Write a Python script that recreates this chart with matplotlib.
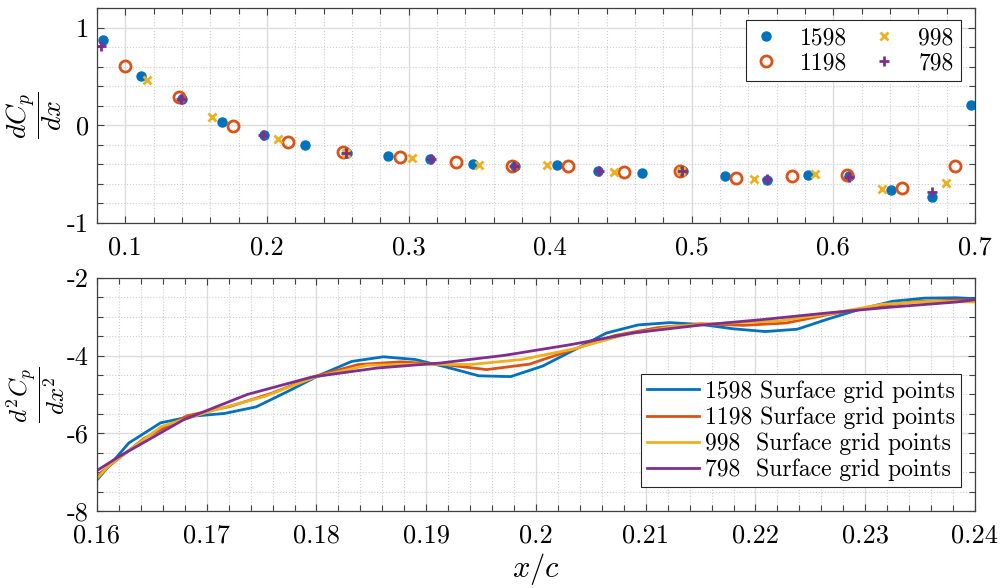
"""Surface pressure-gradient derivatives for four surface grid resolutions."""
import numpy as np
import matplotlib.pyplot as plt
from matplotlib.ticker import MultipleLocator

plt.rcParams['font.family'] = 'serif'
plt.rcParams['font.serif'] = ['cmr10', 'DejaVu Serif']
plt.rcParams['mathtext.fontset'] = 'cm'
plt.rcParams['axes.formatter.use_mathtext'] = True

# first derivative, every 10th surface point
x1598 = [0.0840, 0.1113, 0.1400, 0.1685, 0.1979, 0.2270, 0.2569, 0.2858, 0.3155, 0.3458, 0.3752,
         0.4050, 0.4340, 0.4646, 0.4940, 0.5237, 0.5528, 0.5822, 0.6112, 0.6406, 0.6693, 0.6970]
y1598 = [0.868, 0.505, 0.273, 0.037, -0.100, -0.205, -0.284, -0.316, -0.343, -0.395, -0.420,
         -0.405, -0.464, -0.485, -0.464, -0.516, -0.558, -0.506, -0.516, -0.661, -0.734, 0.208]
x1198 = [0.1000, 0.1376, 0.1760, 0.2152, 0.2540, 0.2940, 0.3336, 0.3729, 0.4129, 0.4524, 0.4917,
         0.5312, 0.5705, 0.6097, 0.6486, 0.6862]
y1198 = [0.609, 0.290, -0.004, -0.166, -0.274, -0.326, -0.378, -0.420, -0.412, -0.482, -0.464,
         -0.540, -0.523, -0.509, -0.644, -0.412]
x998 = [0.1153, 0.1612, 0.2078, 0.2555, 0.3023, 0.3500, 0.3976, 0.4450, 0.4925, 0.5440, 0.5870,
        0.6340, 0.6794]
y998 = [0.463, 0.083, -0.142, -0.280, -0.332, -0.402, -0.405, -0.475, -0.465, -0.550, -0.498,
        -0.648, -0.592]
x798 = [0.0830, 0.1393, 0.1972, 0.2560, 0.3157, 0.3747, 0.4345, 0.4933, 0.5528, 0.6112, 0.6693]
y798 = [0.816, 0.273, -0.100, -0.284, -0.343, -0.420, -0.464, -0.464, -0.550, -0.526, -0.680]

# second derivative, all surface points in 0.16 < x/c < 0.24
xx1598 = [0.1600, 0.1629, 0.1658, 0.1687, 0.1716, 0.1745, 0.1774, 0.1803, 0.1832, 0.1861, 0.1890,
          0.1919, 0.1948, 0.1977, 0.2006, 0.2035, 0.2064, 0.2093, 0.2122, 0.2151, 0.2180, 0.2209,
          0.2238, 0.2267, 0.2296, 0.2325, 0.2354, 0.2383, 0.2412]
d1598 = [-7.20, -6.25, -5.73, -5.56, -5.49, -5.32, -4.92, -4.50, -4.15, -4.03, -4.10,
         -4.30, -4.52, -4.54, -4.27, -3.85, -3.42, -3.21, -3.15, -3.20, -3.31, -3.38,
         -3.32, -3.05, -2.80, -2.60, -2.52, -2.51, -2.55]
xx1198 = [0.1600, 0.1604, 0.1643, 0.1682, 0.1721, 0.1760, 0.1799, 0.1838, 0.1877, 0.1916, 0.1955,
          0.1994, 0.2033, 0.2072, 0.2111, 0.2150, 0.2189, 0.2228, 0.2267, 0.2306, 0.2345, 0.2384,
          0.2400]
d1198 = [-7.14, -7.00, -6.13, -5.55, -5.31, -4.96, -4.53, -4.23, -4.16, -4.23, -4.36,
         -4.22, -3.85, -3.48, -3.28, -3.18, -3.22, -3.16, -2.94, -2.75, -2.61, -2.57,
         -2.57]
xx998 = [0.1600, 0.1612, 0.1659, 0.1706, 0.1753, 0.1799, 0.1846, 0.1893, 0.1940, 0.1987, 0.2034,
         0.2081, 0.2128, 0.2175, 0.2221, 0.2268, 0.2315, 0.2362, 0.2400]
d998 = [-7.16, -6.80, -5.82, -5.41, -5.05, -4.55, -4.25, -4.22, -4.23, -4.10, -3.83,
        -3.46, -3.24, -3.16, -3.11, -2.92, -2.68, -2.60, -2.62]
xx798 = [0.1600, 0.1620, 0.1679, 0.1737, 0.1796, 0.1855, 0.1913, 0.1972, 0.2031, 0.2090, 0.2148,
         0.2207, 0.2266, 0.2324, 0.2383, 0.2400]
d798 = [-6.96, -6.60, -5.65, -5.00, -4.55, -4.32, -4.19, -3.99, -3.72, -3.41, -3.22,
        -3.07, -2.90, -2.75, -2.62, -2.56]

top_xticks = [0.1, 0.2, 0.3, 0.4, 0.5, 0.6, 0.7]
top_xlabels = ['0.1', '0.2', '0.3', '0.4', '0.5', '0.6', '0.7']
top_yticks = [-1, 0, 1]
top_ylabels = ['-1', '0', '1']
bot_xticks = [0.16, 0.17, 0.18, 0.19, 0.20, 0.21, 0.22, 0.23, 0.24]
bot_xlabels = ['0.16', '0.17', '0.18', '0.19', '0.2', '0.21', '0.22', '0.23', '0.24']
bot_yticks = [-8, -6, -4, -2]
bot_ylabels = ['-8', '-6', '-4', '-2']

blue, orange, yellow, purple = '#0072BD', '#D95319', '#EDB120', '#7E2F8E'
frame = '#404040'


def matlab_axes(ax, xminor, yminor):
    ax.xaxis.set_minor_locator(MultipleLocator(xminor))
    ax.yaxis.set_minor_locator(MultipleLocator(yminor))
    ax.grid(which='major', color='#dcdcdc', linewidth=1.0, linestyle='-')
    ax.grid(which='minor', color='#cdcdcd', linewidth=0.8, linestyle=':')
    ax.set_axisbelow(True)
    ax.tick_params(which='both', direction='in', top=True, right=True,
                   color=frame, labelsize=19)
    ax.tick_params(axis='x', which='both', pad=9)
    ax.tick_params(axis='y', which='both', pad=6)
    ax.tick_params(which='major', length=5, width=0.8)
    ax.tick_params(which='minor', length=4, width=0.8)
    for s in ax.spines.values():
        s.set_color(frame)
        s.set_linewidth(0.9)


fig = plt.figure(figsize=(10.04, 5.88), dpi=100)
ax1 = fig.add_axes([0.0966, 0.6207, 0.8745, 0.3656])
ax2 = fig.add_axes([0.0966, 0.1310, 0.8745, 0.3963])

ax1.plot(x1598, y1598, 'o', color=blue, ms=6.5, label='1598')
ax1.plot(x1198, y1198, 'o', mfc='none', mec=orange, mew=2, ms=8, label='1198')
ax1.plot(x998, y998, 'x', color=yellow, mew=2, ms=6, label='998')
ax1.plot(x798, y798, '+', color=purple, mew=2, ms=7, label='798')
ax1.set_xlim(0.08, 0.7)
ax1.set_ylim(-1, 1.2)
ax1.set_xticks(top_xticks)
ax1.set_xticklabels(top_xlabels)
ax1.set_yticks(top_yticks)
ax1.set_yticklabels(top_ylabels)
matlab_axes(ax1, 0.02, 0.2)
ax1.set_ylabel(r'$\dfrac{dC_p}{dx}$', fontsize=20)
ax1.yaxis.set_label_coords(-0.038, 0.5)
leg1 = ax1.legend(ncol=2, loc='upper right', bbox_to_anchor=(0.9569, 0.966),
                  bbox_transform=fig.transFigure, borderaxespad=0, fontsize=17,
                  fancybox=False, edgecolor='#262626', framealpha=1,
                  handlelength=1.1, handletextpad=0.9, columnspacing=1.0,
                  labelspacing=0.12, borderpad=0.3)
leg1.get_frame().set_linewidth(0.8)

ax2.plot(xx1598, d1598, color=blue, lw=2, label='1598 Surface grid points')
ax2.plot(xx1198, d1198, color=orange, lw=2, label='1198 Surface grid points')
ax2.plot(xx998, d998, color=yellow, lw=2, label='998  Surface grid points')
ax2.plot(xx798, d798, color=purple, lw=2, label='798  Surface grid points')
ax2.set_xlim(0.16, 0.24)
ax2.set_ylim(-8, -2)
ax2.set_xticks(bot_xticks)
ax2.set_xticklabels(bot_xlabels)
ax2.set_yticks(bot_yticks)
ax2.set_yticklabels(bot_ylabels)
matlab_axes(ax2, 0.002, 0.5)
ax2.set_ylabel(r'$\dfrac{d^2C_p}{dx^2}$', fontsize=18)
ax2.yaxis.set_label_coords(-0.034, 0.5)
ax2.set_xlabel(r'$x/c$', fontsize=22, labelpad=3)
leg2 = ax2.legend(loc='upper right', bbox_to_anchor=(0.9569, 0.3634),
                  bbox_transform=fig.transFigure, borderaxespad=0, fontsize=17,
                  fancybox=False, edgecolor='#262626', framealpha=1,
                  handlelength=2.2, handletextpad=0.25, labelspacing=0.15,
                  borderpad=0.25)
leg2.get_frame().set_linewidth(0.8)

fig.savefig('out.png', dpi=100)
